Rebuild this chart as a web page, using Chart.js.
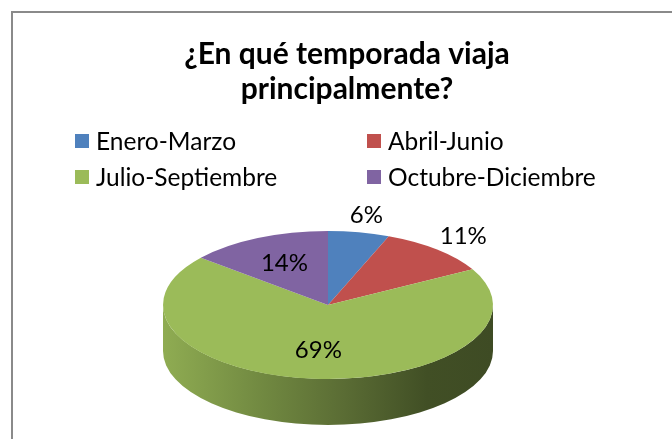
<!DOCTYPE html>
<html>
<head>
<meta charset="utf-8">
<script src="https://cdn.jsdelivr.net/npm/chart.js@4.4.0/dist/chart.umd.min.js"></script>
<style>
    html, body { margin: 0; padding: 0; background: #fff; }
    canvas { display: block; }
</style>
</head>
<body>
<canvas id="myChart" width="672" height="439"></canvas>
<script>
const titleLines = ['¿En qué temporada viaja', 'principalmente?'];
const categories = ['Enero-Marzo', 'Abril-Junio', 'Julio-Septiembre', 'Octubre-Diciembre'];
const percentages = [6, 11, 69, 14];
const sliceColors = ['#4f81bd', '#c0504d', '#9bbb59', '#8064a2'];

const FONT = 'Lato, "Liberation Sans", sans-serif';
const CY = 305;        // centre of the flattened top face
const FLAT = 0.4485;   // vertical squash of the pie
const DEPTH = 46;      // thickness of the 3d side

function shade(hex, f) {
    const n = parseInt(hex.slice(1), 16);
    const r = Math.round(((n >> 16) & 255) * f);
    const g = Math.round(((n >> 8) & 255) * f);
    const b = Math.round((n & 255) * f);
    return 'rgb(' + r + ',' + g + ',' + b + ')';
}

// front half of the rim, angles 0..PI in canvas terms
function frontPart(a1, a2) {
    const parts = [];
    for (const off of [-2 * Math.PI, 0, 2 * Math.PI]) {
        const s = Math.max(a1 + off, 0);
        const e = Math.min(a2 + off, Math.PI);
        if (e > s) parts.push([s, e]);
    }
    return parts;
}

const pie3d = {
    id: 'pie3d',
    beforeDraw(chart) {
        const ctx = chart.ctx;
        ctx.save();
        ctx.fillStyle = '#fff';
        ctx.fillRect(0, 0, chart.width, chart.height);
        // chart frame
        ctx.fillStyle = '#8a8a8a';
        ctx.fillRect(11, 11, chart.width, 2);
        ctx.fillRect(11, 11, 2, chart.height);
        ctx.restore();
    },
    beforeDatasetsDraw(chart) {
        const ctx = chart.ctx;
        const arcs = chart.getDatasetMeta(0).data;
        const cx = arcs[0].x;
        const R = arcs[0].outerRadius;
        const ry = R * FLAT;
        ctx.save();
        arcs.forEach((arc, i) => {
            const col = sliceColors[i];
            frontPart(arc.startAngle, arc.endAngle).forEach(([s, e]) => {
                const grad = ctx.createLinearGradient(cx - R, 0, cx + R, 0);
                grad.addColorStop(0, shade(col, 0.92));
                grad.addColorStop(0.3, shade(col, 0.73));
                grad.addColorStop(0.55, shade(col, 0.58));
                grad.addColorStop(0.8, shade(col, 0.42));
                grad.addColorStop(1, shade(col, 0.4));
                ctx.beginPath();
                ctx.ellipse(cx, CY, R, ry, 0, s, e);
                ctx.ellipse(cx, CY + DEPTH, R, ry, 0, e, s, true);
                ctx.closePath();
                ctx.fillStyle = grad;
                ctx.fill();
            });
        });
        ctx.restore();

        // squash the library's own arcs into the top face
        ctx.save();
        ctx.translate(0, CY);
        ctx.scale(1, FLAT);
        ctx.translate(0, -arcs[0].y);
    },
    afterDatasetsDraw(chart) {
        const ctx = chart.ctx;
        ctx.restore();

        const arcs = chart.getDatasetMeta(0).data;
        ctx.save();
        ctx.fillStyle = '#000';
        ctx.font = '24px ' + FONT;
        ctx.textAlign = 'center';
        ctx.textBaseline = 'middle';
        arcs.forEach((arc, i) => {
            const mid = (arc.startAngle + arc.endAngle) / 2;
            const f = percentages[i] < 12 ? 1.24 : 0.62;
            const r = arc.outerRadius * f;
            const x = arc.x + Math.cos(mid) * r;
            const y = CY + Math.sin(mid) * r * FLAT;
            ctx.fillText(percentages[i] + '%', x, y);
        });
        ctx.restore();
    },
    afterDraw(chart) {
        const ctx = chart.ctx;
        ctx.save();
        ctx.fillStyle = '#000';
        ctx.textAlign = 'center';
        ctx.textBaseline = 'alphabetic';
        ctx.font = 'bold 30px ' + FONT;
        ctx.fillText(titleLines[0], 347, 64);
        ctx.fillText(titleLines[1], 347, 99);

        // legend, two columns
        ctx.font = '24.5px ' + FONT;
        ctx.textAlign = 'left';
        ctx.textBaseline = 'middle';
        const colX = [75, 367];
        const rowY = [141, 177];
        categories.forEach((name, i) => {
            const x = colX[i % 2];
            const y = rowY[Math.floor(i / 2)];
            ctx.fillStyle = sliceColors[i];
            ctx.fillRect(x, y - 7, 14, 14);
            ctx.fillStyle = '#000';
            ctx.fillText(name, x + 21, y + 1);
        });
        ctx.restore();
    }
};

const ctx = document.getElementById('myChart').getContext('2d');
const myChart = new Chart(ctx, {
    type: 'pie',
    data: {
        labels: categories,
        datasets: [{
            data: percentages,
            backgroundColor: sliceColors,
            borderWidth: 0,
            radius: 165,
            clip: false
        }]
    },
    options: {
        responsive: false,
        animation: false,
        layout: { padding: { left: 0, right: 16, top: 0, bottom: 0 } },
        plugins: {
            legend: { display: false },
            title: { display: false },
            tooltip: { enabled: false }
        }
    },
    plugins: [pie3d]
});
</script>
</body>
</html>
